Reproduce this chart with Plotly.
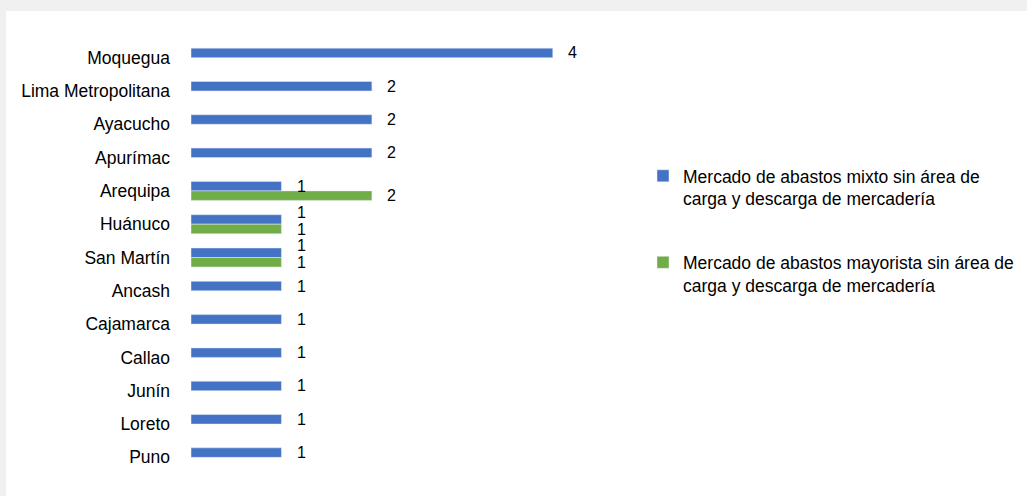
import plotly.graph_objects as go

# Data
regiones = ['Moquegua', 'Lima Metropolitana', 'Ayacucho', 'Apurímac', 'Arequipa',
            'Huánuco', 'San Martín', 'Ancash', 'Cajamarca', 'Callao', 'Junín',
            'Loreto', 'Puno']
mixto = [4, 2, 2, 2, 1, 1, 1, 1, 1, 1, 1, 1, 1]
mayorista = [None, None, None, None, 2, 1, 1, None, None, None, None, None, None]

nombre_mixto = 'Mercado de abastos mixto sin área de<br>carga y descarga de mercadería'
nombre_mayorista = 'Mercado de abastos mayorista sin área de<br>carga y descarga de mercadería'

FONT = 'Liberation Sans, Arial, sans-serif'
BLUE = '#4472C4'
GREEN = '#70AD47'

# plot area: left edge at 191px, 4.5 units wide
PLOT_W = 407
PLOT_H = 433

fig = go.Figure()
for nombre, valores, color, grupo in [(nombre_mixto, mixto, BLUE, 'a'),
                                      (nombre_mayorista, mayorista, GREEN, 'b')]:
    fig.add_trace(go.Bar(
        y=regiones,
        x=valores,
        name=nombre,
        legendgroup=grupo,
        orientation='h',
        marker_color=color,
    ))

# value labels next to each bar; when both labels would collide they are spread apart
anotaciones = []
for region, v_mixto, v_may in zip(regiones, mixto, mayorista):
    choque = v_may is not None and v_may == v_mixto
    for valor, desplaz in [(v_mixto, 12 if choque else 4.75),
                           (v_may, -5 if choque else -4.75)]:
        if valor is None:
            continue
        anotaciones.append(dict(x=valor, y=region, text=str(valor), showarrow=False,
                                xanchor='center', xshift=20, yshift=desplaz,
                                font=dict(family=FONT, size=16, color='#000000')))

fig.update_layout(
    width=1027,
    height=496,
    margin=dict(l=191, r=1027 - 191 - PLOT_W, t=41, b=496 - 41 - PLOT_H, pad=0,
                autoexpand=False),
    paper_bgcolor='#f0f0f0',
    plot_bgcolor='white',
    barmode='group',
    bargap=0.43,
    bargroupgap=0,
    font=dict(family=FONT, size=17.5, color='#000000'),
    xaxis=dict(range=[0, 4.5], visible=False, fixedrange=True),
    yaxis=dict(autorange='reversed', showgrid=False, showline=False, zeroline=False,
               ticks='', ticklabelstandoff=20, automargin=False,
               tickfont=dict(size=17.5)),
    legend=dict(x=(643 - 191) / PLOT_W, xanchor='left', y=0.73, yanchor='top',
                valign='top', tracegroupgap=38, bgcolor='rgba(0,0,0,0)',
                font=dict(family=FONT, size=17.5)),
    showlegend=True,
    annotations=anotaciones,
    shapes=[dict(type='rect', xref='paper', yref='paper', layer='below',
                 x0=(6 - 191) / PLOT_W, x1=(1040 - 191) / PLOT_W,
                 y0=-40 / PLOT_H, y1=1 + 30 / PLOT_H,
                 fillcolor='white', line=dict(width=0))],
)

fig.write_html('out.html',
               config={'displayModeBar': False},
               post_script="document.body.style.margin='0';"
                           "document.body.style.background='#f0f0f0';")
